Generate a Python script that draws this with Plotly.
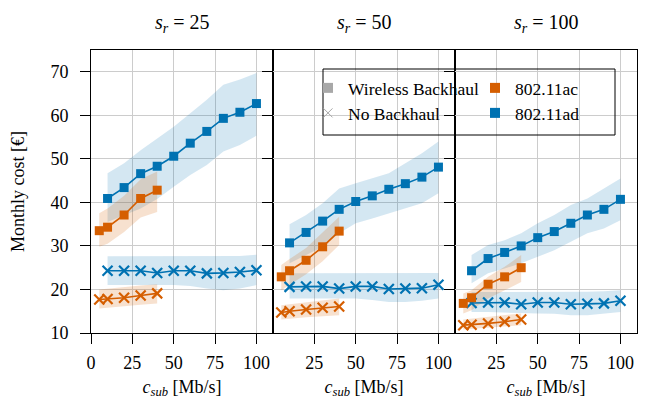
import plotly.graph_objects as go
from plotly.subplots import make_subplots

# ---------------- data ----------------
panel_titles = ["<i>s</i><sub><i>r</i></sub> = 25",
                "<i>s</i><sub><i>r</i></sub> = 50",
                "<i>s</i><sub><i>r</i></sub> = 100"]

x_ad = [10, 20, 30, 40, 50, 60, 70, 80, 90, 100]
x_ac = [5, 10, 20, 30, 40]

# 802.11ad, wireless backhaul (mean, upper, lower) per panel
ad_wb_mean = [[40.9, 43.4, 46.6, 48.3, 50.6, 53.6, 56.3, 59.3, 60.7, 62.7],
              [30.7, 33.1, 35.7, 38.4, 40.2, 41.5, 43.0, 44.3, 45.8, 48.1],
              [24.3, 27.1, 28.5, 30.0, 31.9, 33.3, 35.2, 37.1, 38.4, 40.7]]
ad_wb_up = [[46.7, 49.0, 52.0, 54.7, 57.4, 60.5, 63.6, 67.0, 68.2, 69.7],
            [35.0, 37.1, 39.8, 43.2, 44.4, 45.5, 46.7, 49.0, 51.3, 54.0],
            [27.9, 30.2, 31.3, 32.9, 35.2, 37.1, 39.4, 40.9, 43.2, 45.5]]
ad_wb_lo = [[35.5, 37.0, 38.6, 40.8, 43.6, 46.3, 48.6, 51.7, 53.2, 55.3],
            [26.0, 27.9, 29.8, 32.9, 35.2, 36.3, 37.5, 38.6, 39.8, 42.1],
            [21.4, 23.7, 24.8, 26.0, 27.5, 29.0, 30.9, 32.9, 34.0, 35.9]]

# 802.11ac, wireless backhaul
ac_wb_mean = [[33.5, 34.3, 37.1, 40.9, 42.8],
              [22.9, 24.3, 26.7, 29.8, 33.4],
              [16.8, 18.1, 21.2, 22.9, 25.0]]
ac_wb_up = [[37.5, 38.6, 41.5, 45.3, 47.1],
            [25.6, 27.0, 29.5, 33.0, 36.7],
            [19.1, 19.8, 22.9, 25.2, 27.9]]
ac_wb_lo = [[29.8, 30.5, 33.2, 36.5, 37.8],
            [19.8, 21.0, 23.5, 26.5, 30.2],
            [14.5, 15.2, 17.9, 19.8, 21.7]]

# 802.11ad, no backhaul
ad_nb_mean = [[24.3, 24.3, 24.3, 23.8, 24.3, 24.3, 23.7, 23.8, 24.0, 24.4],
              [20.6, 20.7, 20.7, 20.2, 20.7, 20.7, 20.1, 20.2, 20.3, 21.1],
              [16.9, 17.0, 17.0, 16.6, 17.0, 17.0, 16.6, 16.7, 16.8, 17.4]]
ad_nb_up = [[27.6, 27.6, 27.6, 27.6, 27.7, 27.7, 27.6, 27.6, 27.7, 28.0],
            [23.7, 23.7, 23.7, 23.7, 23.7, 23.7, 23.7, 23.7, 23.7, 23.8],
            [19.4, 19.4, 19.4, 19.4, 19.4, 19.4, 19.4, 19.5, 19.6, 19.8]]
ad_nb_lo = [[21.0, 21.0, 21.0, 21.0, 21.0, 20.8, 20.2, 19.8, 20.2, 21.0],
            [17.9, 17.9, 17.9, 17.9, 17.9, 17.6, 17.1, 17.1, 17.4, 17.9],
            [14.8, 14.8, 14.8, 14.6, 14.5, 14.4, 14.1, 14.1, 14.4, 14.8]]

# 802.11ac, no backhaul
ac_nb_mean = [[17.7, 17.8, 18.1, 18.6, 19.1],
              [14.7, 15.0, 15.4, 15.8, 16.1],
              [11.8, 11.9, 12.2, 12.6, 13.1]]
ac_nb_up = [[20.0, 20.2, 20.5, 20.9, 21.2],
            [16.4, 16.6, 17.0, 17.5, 17.9],
            [13.1, 13.3, 13.7, 14.1, 14.5]]
ac_nb_lo = [[15.6, 15.8, 16.1, 16.5, 16.8],
            [13.1, 13.3, 13.6, 13.9, 14.1],
            [10.8, 10.9, 11.2, 11.5, 11.8]]

y_ticks = [10, 20, 30, 40, 50, 60, 70]
x_ticks_first = [0, 25, 50, 75, 100]
x_ticks_other = [25, 50, 75, 100]

# ---------------- style ----------------
BLUE = "#0072B2"
ORANGE = "#D55E00"
BLUE_FILL = "rgba(0,114,178,0.17)"
ORANGE_FILL = "rgba(213,94,0,0.19)"
GRAY = "#a8a8a8"
FONT = "Liberation Serif, Times New Roman, serif"
FS = 18
LFS = 17.5

fig = make_subplots(rows=1, cols=3, shared_yaxes=True, horizontal_spacing=0)


def band(x, up, lo, fill, col):
    fig.add_trace(go.Scatter(x=x + x[::-1], y=up + lo[::-1], fill="toself",
                             fillcolor=fill, line=dict(width=0), mode="lines",
                             hoverinfo="skip", showlegend=False), row=1, col=col)


def line(x, y, color, symbol, col):
    if symbol == "square":
        marker = dict(symbol="square", size=9, color=color, line=dict(width=0))
    else:
        marker = dict(symbol="x-thin", size=10, color=color,
                      line=dict(width=2.2, color=color))
    fig.add_trace(go.Scatter(x=x, y=y, mode="lines+markers",
                             line=dict(color=color, width=1.6), marker=marker,
                             showlegend=False), row=1, col=col)


for p in range(3):
    c = p + 1
    band(x_ad, ad_wb_up[p], ad_wb_lo[p], BLUE_FILL, c)
    band(x_ad, ad_nb_up[p], ad_nb_lo[p], BLUE_FILL, c)
    band(x_ac, ac_wb_up[p], ac_wb_lo[p], ORANGE_FILL, c)
    band(x_ac, ac_nb_up[p], ac_nb_lo[p], ORANGE_FILL, c)
    line(x_ad, ad_wb_mean[p], BLUE, "square", c)
    line(x_ad, ad_nb_mean[p], BLUE, "x", c)
    line(x_ac, ac_wb_mean[p], ORANGE, "square", c)
    line(x_ac, ac_nb_mean[p], ORANGE, "x", c)

# legend entries (one legend per entry for precise placement)
legend_entries = [
    ("Wireless Backhaul", dict(symbol="square", size=10, color=GRAY), "legend"),
    ("No Backhaul", dict(symbol="x-thin", size=9, color=GRAY, line=dict(width=1, color=GRAY)), "legend2"),
    ("802.11ac", dict(symbol="square", size=10, color=ORANGE), "legend3"),
    ("802.11ad", dict(symbol="square", size=10, color=BLUE), "legend4"),
]
for name, mk, lg in legend_entries:
    fig.add_trace(go.Scatter(x=[None], y=[None], mode="markers", marker=mk,
                             name=name, legend=lg, showlegend=True), row=1, col=1)

# page has an 8px body margin; figure is sized to fit the 655x402 window
OFF = 8
W, H = 655 - OFF, 402 - OFF
L, T = 91 - OFF, 50 - OFF
R, B = 655 - 637, 402 - 333
pw, ph = W - L - R, H - T - B


def px_x(px):  # page px -> paper
    return (px - OFF - L) / pw


def px_y(py):
    return (H - B - (py - OFF)) / ph


leg_common = dict(bgcolor="rgba(0,0,0,0)", borderwidth=0,
                  font=dict(family=FONT, size=LFS, color="black"),
                  xanchor="left", yanchor="middle", itemwidth=30)
fig.update_layout(
    legend=dict(x=px_x(308), y=px_y(88), **leg_common),
    legend2=dict(x=px_x(308), y=px_y(113), **leg_common),
    legend3=dict(x=px_x(475), y=px_y(88), **leg_common),
    legend4=dict(x=px_x(475), y=px_y(113), **leg_common),
)

fig.add_shape(type="rect", xref="paper", yref="paper",
              x0=px_x(323), x1=px_x(615), y0=px_y(135), y1=px_y(69),
              line=dict(color="black", width=1), fillcolor="rgba(0,0,0,0)", layer="above")

axis_common = dict(showline=True, linecolor="black", linewidth=1, mirror=True,
                   showgrid=True, gridcolor="#cccccc", gridwidth=1,
                   ticks="outside", ticklen=10, tickcolor="black", tickwidth=1,
                   zeroline=False, automargin=False,
                   tickfont=dict(family=FONT, size=FS, color="black"))

for i in range(3):
    c = i + 1
    fig.update_xaxes(range=[0, 110], tickmode="array",
                     tickvals=x_ticks_first if i == 0 else x_ticks_other,
                     ticklabelstandoff=3,
                     title=dict(text="<i>c</i><sub><i>sub</i></sub> [Mb/s]",
                                font=dict(family=FONT, size=FS, color="black"),
                                standoff=8),
                     **axis_common, row=1, col=c)
    fig.update_yaxes(range=[10, 75], tickmode="array", tickvals=y_ticks,
                     showticklabels=(i == 0), ticklabelstandoff=8,
                     **axis_common, row=1, col=c)

fig.update_yaxes(title=dict(text="Monthly cost [€]",
                            font=dict(family=FONT, size=FS, color="black"),
                            standoff=22), row=1, col=1)

for i, t in enumerate(panel_titles):
    fig.add_annotation(text=t, xref="paper", yref="paper",
                       x=(i + 0.5) / 3, y=px_y(OFF + 1), xanchor="center", yanchor="top",
                       showarrow=False, font=dict(family=FONT, size=20, color="black"))

fig.update_layout(width=W, height=H, margin=dict(l=L, r=R, t=T, b=B),
                  plot_bgcolor="white", paper_bgcolor="white",
                  font=dict(family=FONT, size=FS, color="black"))

fig.write_html("out.html")
